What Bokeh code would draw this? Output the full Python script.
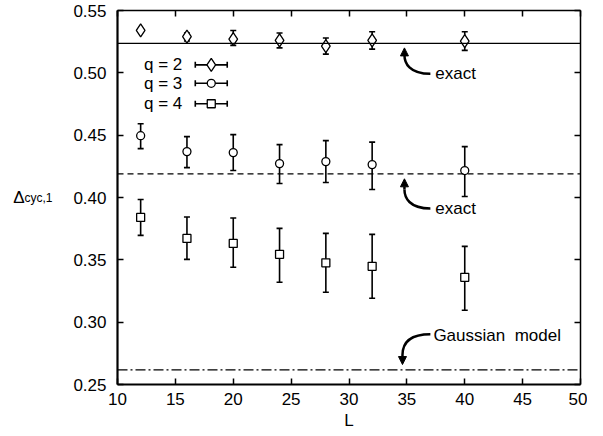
from bokeh.plotting import figure
from bokeh.models import (ColumnDataSource, Whisker, TeeHead, LinearAxis, FixedTicker,
                          Span, Arrow, NormalHead, Range1d)
from bokeh.embed import file_html
from bokeh.resources import INLINE
from bokeh.core.properties import value

# ---------------- data ----------------
L_vals = [12, 16, 20, 24, 28, 32, 40]

q2_val = [0.534, 0.529, 0.527, 0.526, 0.5215, 0.526, 0.5255]
q2_lo = [0.534, 0.5255, 0.522, 0.520, 0.515, 0.519, 0.518]
q2_hi = [0.534, 0.532, 0.534, 0.532, 0.528, 0.533, 0.533]

q3_val = [0.4496, 0.4368, 0.436, 0.4272, 0.4288, 0.4264, 0.4216]
q3_lo = [0.4392, 0.424, 0.4216, 0.4112, 0.412, 0.4064, 0.4008]
q3_hi = [0.4592, 0.4488, 0.4504, 0.4424, 0.4456, 0.4444, 0.4408]

q4_val = [0.384, 0.3672, 0.3632, 0.3544, 0.3476, 0.3448, 0.336]
q4_lo = [0.3696, 0.3504, 0.344, 0.332, 0.324, 0.3192, 0.3096]
q4_hi = [0.3984, 0.3844, 0.3836, 0.3752, 0.3712, 0.3704, 0.3608]

exact_q2 = 0.5236
exact_q3 = 0.419
gaussian_model = 0.2618

x_ticks = [10, 15, 20, 25, 30, 35, 40, 45, 50]
y_ticks = [0.25, 0.30, 0.35, 0.40, 0.45, 0.50, 0.55]
legend_labels = ["q = 2", "q = 3", "q = 4"]

FONT = "Liberation Sans"

p = figure(width=587, height=436, output_backend="svg", toolbar_location=None,
           x_range=Range1d(10, 50), y_range=Range1d(0.25, 0.55),
           min_border_left=117, min_border_right=7, min_border_top=10, min_border_bottom=52,
           background_fill_color="white", border_fill_color="white")
p.grid.visible = False
p.outline_line_color = None

def style_axis(ax, ticks, show_labels, lw):
    ax.ticker = FixedTicker(ticks=ticks)
    ax.major_tick_in = 6
    ax.major_tick_out = 0
    ax.minor_tick_line_color = None
    ax.axis_line_width = lw
    ax.major_tick_line_width = 1.5
    ax.axis_line_color = "black"
    ax.major_tick_line_color = "black"
    if show_labels:
        ax.major_label_text_font = FONT
        ax.major_label_text_font_size = "17px"
        ax.major_label_text_color = "black"
    else:
        ax.major_label_overrides = {t: "" for t in ticks}
        ax.major_label_text_font_size = "1px"
        ax.major_label_standoff = 0

style_axis(p.xaxis[0], x_ticks, True, 2.2)
style_axis(p.yaxis[0], y_ticks, True, 2.2)
p.xaxis[0].major_label_overrides = {t: str(t) for t in x_ticks}
p.yaxis[0].major_label_overrides = {t: f"{t:.2f}" for t in y_ticks}
p.xaxis[0].major_label_standoff = 8
p.yaxis[0].major_label_standoff = 11

# axis titles: "L" below, Δ with subscript "cyc,1" on the left (two stacked left axes)
p.xaxis[0].axis_label = "L"
p.xaxis[0].axis_label_text_font = FONT
p.xaxis[0].axis_label_text_font_style = "normal"
p.xaxis[0].axis_label_text_font_size = "17px"
p.xaxis[0].axis_label_text_color = "black"
p.xaxis[0].axis_label_standoff = 3

p.yaxis[0].axis_label = "cyc,1"
p.yaxis[0].axis_label_orientation = "horizontal"
p.yaxis[0].axis_label_text_font = FONT
p.yaxis[0].axis_label_text_font_style = "normal"
p.yaxis[0].axis_label_text_font_size = "12px"
p.yaxis[0].axis_label_text_color = "black"
p.yaxis[0].axis_label_text_baseline = "top"
p.yaxis[0].axis_label_standoff = 18

delta_ax = LinearAxis(ticker=FixedTicker(ticks=[]), axis_label="\u0394",
                      axis_label_orientation="horizontal", axis_label_standoff=-3,
                      axis_label_text_font=FONT, axis_label_text_font_style="normal",
                      axis_label_text_font_size="17px", axis_label_text_color="black",
                      axis_label_text_baseline="middle",
                      axis_line_color=None, major_tick_line_color=None,
                      minor_tick_line_color=None, major_label_text_font_size="1px")
p.add_layout(delta_ax, "left")

top_ax = LinearAxis()
right_ax = LinearAxis()
style_axis(top_ax, x_ticks, False, 1.5)
style_axis(right_ax, y_ticks, False, 1.5)
p.add_layout(top_ax, "above")
p.add_layout(right_ax, "right")

# reference lines
p.add_layout(Span(location=exact_q2, dimension="width", line_color="black", line_width=1.3))
p.add_layout(Span(location=exact_q3, dimension="width", line_color="black", line_width=1.3,
                  line_dash="6 4"))
p.add_layout(Span(location=gaussian_model, dimension="width", line_color="black", line_width=1.3,
                  line_dash="10 3 2 3"))

# data series
series = [
    (q2_val, q2_lo, q2_hi, "diamond", 13),
    (q3_val, q3_lo, q3_hi, "circle", 8),
    (q4_val, q4_lo, q4_hi, "square", 8),
]
for vals, lo, hi, marker, size in series:
    src = ColumnDataSource(dict(x=L_vals, y=vals, lo=lo, hi=hi))
    w = Whisker(source=src, base="x", lower="lo", upper="hi", line_width=1.6, line_color="black",
                upper_head=TeeHead(size=6, line_width=1.6, line_color="black"),
                lower_head=TeeHead(size=6, line_width=1.6, line_color="black"))
    p.add_layout(w)
    p.scatter("x", "y", source=src, marker=marker, size=size, fill_color="white",
              line_color="black", line_width=1.3)

# legend (text left, key right)
leg_text_x = 15.6
leg_x0, leg_x1, leg_xm = 16.72, 19.48, 18.1
leg_rows = [0.5064, 0.4916, 0.4752]
leg_markers = [("diamond", 13), ("circle", 8), ("square", 8)]
for lab, yy, (mk, sz) in zip(legend_labels, leg_rows, leg_markers):
    p.text(x=[leg_text_x], y=[yy], text=[lab], text_font=value(FONT), text_font_size="17px",
           text_align="right", text_baseline="middle", text_color="black")
    src = ColumnDataSource(dict(x=[leg_xm], y=[yy], lo=[leg_x0], hi=[leg_x1]))
    p.add_layout(Whisker(source=src, base="y", lower="lo", upper="hi", dimension="width",
                         line_width=1.6, line_color="black",
                         upper_head=TeeHead(size=6, line_width=1.6, line_color="black"),
                         lower_head=TeeHead(size=6, line_width=1.6, line_color="black")))
    p.scatter([leg_xm], [yy], marker=mk, size=sz, fill_color="white", line_color="black",
              line_width=1.3)

# annotations with curved arrows
def curved_arrow(tail, c0, c1, end, tip):
    p.bezier(x0=[tail[0]], y0=[tail[1]], x1=[end[0]], y1=[end[1]],
             cx0=[c0[0]], cy0=[c0[1]], cx1=[c1[0]], cy1=[c1[1]],
             line_color="black", line_width=2.5)
    p.add_layout(Arrow(end=NormalHead(size=8, fill_color="black", line_color="black"),
                       x_start=end[0], y_start=end[1], x_end=tip[0], y_end=tip[1],
                       line_width=2.5, line_color="black"))

curved_arrow((37.03, 0.4992), (35.2, 0.4992), (34.79, 0.508), (34.79, 0.5144), (34.79, 0.5200))
curved_arrow((37.03, 0.3912), (35.2, 0.3912), (34.79, 0.400), (34.79, 0.4064), (34.79, 0.4150))
curved_arrow((37.03, 0.2904), (35.04, 0.2904), (34.62, 0.2816), (34.62, 0.2736), (34.62, 0.2660))

p.text(x=[37.46, 37.46, 37.29], y=[0.4992, 0.3912, 0.2896],
       text=["exact", "exact", "Gaussian\u00a0 model"], text_font=value(FONT),
       text_font_size="17px", text_baseline="middle", text_align="left", text_color="black")

open("out.html", "w").write(file_html(p, INLINE))
